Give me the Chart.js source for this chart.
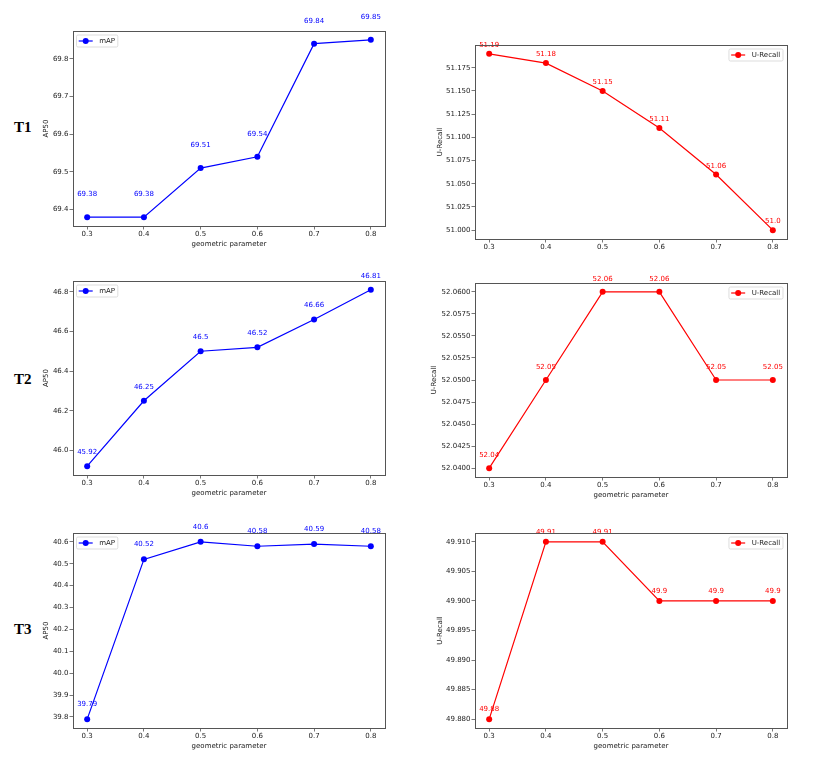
<!DOCTYPE html>
<html>
<head>
<meta charset="utf-8">
<script src="https://cdn.jsdelivr.net/npm/chart.js@4/dist/chart.umd.min.js"></script>
<style>
body { margin: 0; background: #fff; width: 830px; height: 760px; position: relative; overflow: hidden; }
canvas { position: absolute; }
.row { position: absolute; font-family: "Liberation Serif", "DejaVu Serif", serif; font-weight: bold; font-size: 15px; line-height: 15px; color: #000; }
</style>
</head>
<body>
<div class="row" style="left:14px;top:120px">T1</div>
<div class="row" style="left:14px;top:372px">T2</div>
<div class="row" style="left:14px;top:622px">T3</div>
<canvas id="c0"></canvas>
<canvas id="c1"></canvas>
<canvas id="c2"></canvas>
<canvas id="c3"></canvas>
<canvas id="c4"></canvas>
<canvas id="c5"></canvas>
<script>
// geometric parameter on x, one mAP and one U-Recall panel per task
const xValues = [0.3, 0.4, 0.5, 0.6, 0.7, 0.8];
const xTicks = [0.3, 0.4, 0.5, 0.6, 0.7, 0.8];

const t1Map = [69.38, 69.38, 69.51, 69.54, 69.84, 69.85];
const t1Recall = [51.19, 51.18, 51.15, 51.11, 51.06, 51.0];
const t2Map = [45.92, 46.25, 46.5, 46.52, 46.66, 46.81];
const t2Recall = [52.04, 52.05, 52.06, 52.06, 52.05, 52.05];
const t3Map = [39.79, 40.52, 40.6, 40.58, 40.59, 40.58];
const t3Recall = [49.88, 49.91, 49.91, 49.9, 49.9, 49.9];

const t1MapTicks = [69.4, 69.5, 69.6, 69.7, 69.8];
const t1RecallTicks = [51.000, 51.025, 51.050, 51.075, 51.100, 51.125, 51.150, 51.175];
const t2MapTicks = [46.0, 46.2, 46.4, 46.6, 46.8];
const t2RecallTicks = [52.0400, 52.0425, 52.0450, 52.0475, 52.0500, 52.0525, 52.0550, 52.0575, 52.0600];
const t3MapTicks = [39.8, 39.9, 40.0, 40.1, 40.2, 40.3, 40.4, 40.5, 40.6];
const t3RecallTicks = [49.880, 49.885, 49.890, 49.895, 49.900, 49.905, 49.910];

const FONT = { family: '"DejaVu Sans", sans-serif', size: 7 };
const PAD_L = 50, PAD_T = 30, PAD_R = 8, PAD_B = 26;

const panels = [
    { values: t1Map, ticks: t1MapTicks, dec: 1, label: 'mAP', color: '#0000ff', yTitle: 'AP50', xTitle: true, legend: 'left', box: [73, 31, 312, 195], off: 22.5, yPad: 18.8 },
    { values: t1Recall, ticks: t1RecallTicks, dec: 3, label: 'U-Recall', color: '#ff0000', yTitle: 'U-Recall', xTitle: false, legend: 'right', box: [475, 45, 312, 194], off: 8.5, yPad: 10.5 },
    { values: t2Map, ticks: t2MapTicks, dec: 1, label: 'mAP', color: '#0000ff', yTitle: 'AP50', xTitle: true, legend: 'left', box: [73, 281, 312, 194], off: 14, yPad: 18.8 },
    { values: t2Recall, ticks: t2RecallTicks, dec: 4, label: 'U-Recall', color: '#ff0000', yTitle: 'U-Recall', xTitle: true, legend: 'right', box: [475, 283, 312, 194], off: 12.5, yPad: 5 },
    { values: t3Map, ticks: t3MapTicks, dec: 1, label: 'mAP', color: '#0000ff', yTitle: 'AP50', xTitle: true, legend: 'left', box: [73, 533, 312, 195], off: 15, yPad: 18.8 },
    { values: t3Recall, ticks: t3RecallTicks, dec: 3, label: 'U-Recall', color: '#ff0000', yTitle: 'U-Recall', xTitle: true, legend: 'right', box: [475, 533, 312, 195], off: 10, yPad: 10.5 }
];

// python-style str() of a float
function pyStr(v) {
    return Number.isInteger(v) ? v.toFixed(1) : String(v);
}

// matplotlib-like 5% margins
function padRange(arr) {
    const lo = Math.min(...arr), hi = Math.max(...arr);
    const m = (hi - lo) * 0.05;
    return [lo - m, hi + m];
}

const framePlugin = {
    id: 'frame',
    afterDraw(chart) {
        const { ctx, chartArea: a } = chart;
        ctx.save();
        ctx.strokeStyle = '#555';
        ctx.lineWidth = 1;
        ctx.strokeRect(Math.round(a.left) + 0.5, Math.round(a.top) + 0.5, Math.round(a.right - a.left), Math.round(a.bottom - a.top));
        ctx.restore();
    }
};

const valueLabels = {
    id: 'valueLabels',
    afterDatasetsDraw(chart, args, opts) {
        const { ctx } = chart;
        const ds = chart.data.datasets[0];
        const meta = chart.getDatasetMeta(0);
        ctx.save();
        ctx.font = FONT.size + 'px ' + FONT.family;
        ctx.fillStyle = ds.borderColor;
        ctx.textAlign = 'center';
        ctx.textBaseline = 'middle';
        meta.data.forEach((pt, i) => {
            ctx.fillText(pyStr(ds.data[i].y), pt.x, pt.y - opts.offset);
        });
        ctx.restore();
    }
};

const boxLegend = {
    id: 'boxLegend',
    afterDraw(chart, args, opts) {
        const { ctx, chartArea: a } = chart;
        const ds = chart.data.datasets[0];
        ctx.save();
        ctx.font = FONT.size + 'px ' + FONT.family;
        const tw = ctx.measureText(ds.label).width;
        const w = 2.2 + 14 + 6.5 + tw + 2.8, h = 12;
        const x = opts.side === 'left' ? a.left + 3.5 : a.right - 4 - w;
        const y = a.top + 4;
        ctx.fillStyle = 'rgba(255,255,255,0.8)';
        ctx.strokeStyle = '#d4d4d4';
        ctx.lineWidth = 0.8;
        ctx.beginPath();
        ctx.roundRect(x, y, w, h, 1.5);
        ctx.fill();
        ctx.stroke();
        const ly = y + h / 2;
        ctx.strokeStyle = ds.borderColor;
        ctx.lineWidth = 1.2;
        ctx.beginPath();
        ctx.moveTo(x + 2.2, ly);
        ctx.lineTo(x + 16.2, ly);
        ctx.stroke();
        ctx.fillStyle = ds.borderColor;
        ctx.beginPath();
        ctx.arc(x + 9.2, ly, 3, 0, Math.PI * 2);
        ctx.fill();
        ctx.fillStyle = '#222';
        ctx.textBaseline = 'middle';
        ctx.fillText(ds.label, x + 22.7, ly + 0.5);
        ctx.restore();
    }
};

panels.forEach((p, i) => {
    const cv = document.getElementById('c' + i);
    const [bx, by, bw, bh] = p.box;
    cv.width = bw + PAD_L + PAD_R;
    cv.height = bh + PAD_T + PAD_B;
    cv.style.left = (bx - PAD_L) + 'px';
    cv.style.top = (by - PAD_T) + 'px';
    cv.style.width = cv.width + 'px';
    cv.style.height = cv.height + 'px';
    const [ymin, ymax] = padRange(p.values);
    const [xmin, xmax] = padRange(xValues);

    new Chart(cv, {
        type: 'line',
        data: {
            datasets: [{
                label: p.label,
                data: xValues.map((x, k) => ({ x: x, y: p.values[k] })),
                borderColor: p.color,
                backgroundColor: p.color,
                borderWidth: 1.2,
                pointRadius: 3,
                pointHoverRadius: 3,
                pointBorderWidth: 0,
                fill: false,
                tension: 0
            }]
        },
        options: {
            responsive: false,
            animation: false,
            devicePixelRatio: 1,
            layout: { padding: { top: PAD_T, right: PAD_R, left: 0, bottom: 0 } },
            plugins: {
                legend: { display: false },
                tooltip: { enabled: false },
                valueLabels: { offset: p.off },
                boxLegend: { side: p.legend }
            },
            scales: {
                x: {
                    type: 'linear',
                    min: xmin,
                    max: xmax,
                    afterBuildTicks: s => { s.ticks = xTicks.map(v => ({ value: v })); },
                    afterFit: s => { s.height = PAD_B; },
                    grid: { display: true, drawOnChartArea: false, drawTicks: true, tickLength: 3.5, color: '#555', lineWidth: 0.8 },
                    border: { display: false },
                    ticks: { font: FONT, color: '#222', padding: 0.5, maxRotation: 0, callback: v => v.toFixed(1) },
                    title: { display: p.xTitle, text: 'geometric parameter', font: FONT, color: '#222', padding: { top: 0, bottom: 3.8 } }
                },
                y: {
                    type: 'linear',
                    min: ymin,
                    max: ymax,
                    afterBuildTicks: s => { s.ticks = p.ticks.map(v => ({ value: v })); },
                    afterFit: s => { s.width = PAD_L; },
                    grid: { display: true, drawOnChartArea: false, drawTicks: true, tickLength: 3.5, color: '#555', lineWidth: 0.8 },
                    border: { display: false },
                    ticks: { font: FONT, color: '#222', padding: 1, callback: v => v.toFixed(p.dec) },
                    title: { display: true, text: p.yTitle, font: FONT, color: '#222', padding: { top: p.yPad, bottom: 0 } }
                }
            }
        },
        plugins: [framePlugin, valueLabels, boxLegend]
    });
});
</script>
</body>
</html>
